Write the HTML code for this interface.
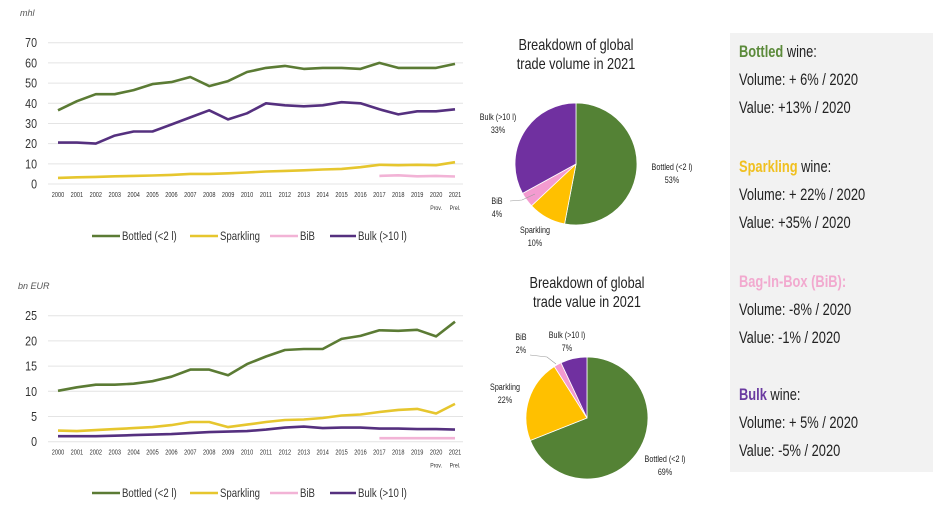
<!DOCTYPE html>
<html><head><meta charset="utf-8">
<style>
html,body{margin:0;padding:0;background:#fff;width:944px;height:521px;overflow:hidden}
svg{display:block;font-family:"Liberation Sans",sans-serif}
.cond{font-family:"Liberation Sans Narrow","Liberation Sans",sans-serif}
</style></head>
<body>
<svg id="chart" width="944" height="521" viewBox="0 0 944 521" xmlns="http://www.w3.org/2000/svg">
  <rect x="730" y="33" width="203" height="439" fill="#f2f2f2"/>
  <g id="summary" font-size="16" fill="#222"></g>
  <g id="volChart"></g>
  <g id="valChart"></g>
  <g id="pies"></g>
</svg>
<script>
const years = ["2000","2001","2002","2003","2004","2005","2006","2007","2008","2009","2010","2011","2012","2013","2014","2015","2016","2017","2018","2019","2020","2021"];
const volBottled = [36.5,41,44.5,44.5,46.5,49.5,50.5,53,48.5,51,55.5,57.5,58.5,57,57.5,57.5,57,60,57.5,57.5,57.5,59.5];
const volSparkling = [3,3.3,3.5,3.8,4,4.2,4.5,5,5,5.3,5.7,6.2,6.5,6.8,7.2,7.5,8.3,9.5,9.3,9.5,9.3,10.8];
const volBiB = [null,null,null,null,null,null,null,null,null,null,null,null,null,null,null,null,null,4,4.3,3.8,4,3.7];
const volBulk = [20.5,20.5,20,24,26,26,29.5,33,36.5,32,35,40,39,38.5,39,40.5,40,37,34.5,36,36,37];
const volTicks = [0,10,20,30,40,50,60,70];
const valBottled = [10.1,10.8,11.3,11.3,11.5,12,12.9,14.3,14.3,13.2,15.4,16.9,18.2,18.4,18.4,20.4,21,22.1,22,22.2,20.9,23.8];
const valSparkling = [2.2,2.1,2.3,2.5,2.7,2.9,3.3,3.9,3.9,2.9,3.4,3.9,4.3,4.4,4.7,5.2,5.4,5.9,6.3,6.5,5.6,7.5];
const valBiB = [null,null,null,null,null,null,null,null,null,null,null,null,null,null,null,null,null,0.7,0.7,0.7,0.7,0.7];
const valBulk = [1.1,1.1,1.1,1.2,1.3,1.4,1.5,1.7,1.9,2,2.1,2.4,2.8,3,2.7,2.8,2.8,2.6,2.6,2.5,2.5,2.4];
const valTicks = [0,5,10,15,20,25];
const pieCats = ["Bottled (<2 l)","Sparkling","BiB","Bulk (>10 l)"];
const volShares = [53,10,4,33];
const valShares = [69,22,2,7];

const NS="http://www.w3.org/2000/svg";
const lineColors=["#5b7b34","#e6c62e","#f2b3d6","#55307f"];
const pieColors=["#548235","#ffc000","#f39bd0","#7030a0"];
function mk(tag,attrs,parent,text){const e=document.createElementNS(NS,tag);for(const k in attrs)e.setAttribute(k,attrs[k]);if(text!==undefined)e.textContent=text;parent.appendChild(e);return e;}

function lineChart(g,cfg){
  const x0=58,x1=455;
  const xs=i=>x0+(x1-x0)*i/(years.length-1);
  const ys=v=>cfg.y0-(cfg.y0-cfg.yTop)*v/cfg.max;
  let u=mk("text",{x:cfg.unitX,y:cfg.unitY,"font-size":9,"font-style":"italic",fill:"#555",class:"cond"},g,cfg.unit);
  
  
  cfg.ticks.forEach(t=>{
    const y=ys(t);
    let gl=mk("line",{x1:48,x2:463,y1:y,y2:y,stroke:"#e4e4e4","stroke-width":1},g);
    
    
    let tl=mk("text",{x:37,y:y+4.5,"text-anchor":"end","font-size":12.5,fill:"#333",class:"cond",transform:`translate(${37*0.15},0) scale(0.85,1)`},g,t);
    tl.setAttribute('x',37/0.85);tl.setAttribute('transform','scale(0.85,1)');
    
    
  });
  years.forEach((yr,i)=>{
    let t=mk("text",{x:xs(i)/0.8,y:cfg.y0+13,"text-anchor":"middle","font-size":7,fill:"#333",transform:"scale(0.8,1)"},g,yr);
    
    
  });
  [["Prov.",years.length-2],["Prel.",years.length-1]].forEach(([s,i])=>{
    let t=mk("text",{x:xs(i)/0.8,y:cfg.y0+26,"text-anchor":"middle","font-size":6.5,fill:"#333",transform:"scale(0.8,1)"},g,s);
    
    
  });
  const names=["bottled","sparkling","bib","bulk"];
  cfg.series.forEach((s,k)=>{
    let d="";let started=false;
    s.forEach((v,i)=>{if(v===null)return;d+=(started?"L":"M")+xs(i).toFixed(1)+","+ys(v).toFixed(1);started=true;});
    let p=mk("path",{d:d,fill:"none",stroke:lineColors[k],"stroke-width":2.6,"stroke-linejoin":"round"},g);
    
    
  });
  const leg=[[92,122],[190,220],[270,300],[330,358]];
  pieCats.forEach((c,k)=>{
    let l=mk("line",{x1:leg[k][0],x2:leg[k][1]-2,y1:cfg.legY,y2:cfg.legY,stroke:lineColors[k],"stroke-width":2.6},g);
    
    
    let t=mk("text",{x:leg[k][1]/0.8,y:cfg.legY+4,"font-size":12,fill:"#333",transform:"scale(0.8,1)"},g,k===2?"BiB":c);
    
    
  });
}
lineChart(document.getElementById("volChart"),{y0:184,yTop:42.7,max:70,ticks:volTicks,series:[volBottled,volSparkling,volBiB,volBulk],unit:"mhl",unitX:20,unitY:16,legY:236});
lineChart(document.getElementById("valChart"),{y0:441.7,yTop:315.7,max:25,ticks:valTicks,series:[valBottled,valSparkling,valBiB,valBulk],unit:"bn EUR",unitX:18,unitY:289,legY:493});

function pie(g,shares,cx,cy,r,title,ty,labels){
  title.forEach((s,i)=>{
    let t=mk("text",{x:cx/0.82,y:ty+i*19,"text-anchor":"middle","font-size":15.5,fill:"#222",transform:"scale(0.82,1)"},g,s);
    
    
  });
  const tot=shares.reduce((a,b)=>a+b,0);let a=-Math.PI/2;
  const names=["bottled","sparkling","bib","bulk"];
  shares.forEach((v,k)=>{
    const a2=a+2*Math.PI*v/tot;
    const large=(a2-a)>Math.PI?1:0;
    const d=`M${cx},${cy}L${cx+r*Math.cos(a)},${cy+r*Math.sin(a)}A${r},${r} 0 ${large} 1 ${cx+r*Math.cos(a2)},${cy+r*Math.sin(a2)}Z`;
    let p=mk("path",{d:d,fill:pieColors[k],stroke:"#fff","stroke-width":0.8},g);
    
    
    a=a2;
  });
  labels.forEach((L,k)=>{
    let t=mk("text",{x:L[0]/0.8,y:L[1],"text-anchor":"middle","font-size":9,fill:"#222",transform:"scale(0.8,1)"},g,pieCats[k]);
    
    
    let t2=mk("text",{x:L[0]/0.8,y:L[1]+13,"text-anchor":"middle","font-size":9,fill:"#222",transform:"scale(0.8,1)"},g,shares[k]+"%");
    
    
  });
}
const pg=document.getElementById("pies");
pie(pg,volShares,576,164,61,["Breakdown of global","trade volume in 2021"],50,[[672,170],[535,233],[497,204],[498,120]]);
pie(pg,valShares,587,418,61,["Breakdown of global","trade value in 2021"],288,[[665,462],[505,390],[521,340],[567,338]]);
let c1=mk("polyline",{points:"510,201 522,200 535,194",fill:"none",stroke:"#999","stroke-width":0.6},pg);


let c2=mk("polyline",{points:"530,355 547,357 556,364",fill:"none",stroke:"#999","stroke-width":0.6},pg);



const sg=document.getElementById("summary");
const blocks=[
 ["Bottled","#5b8a3a"," wine:","Volume: + 6% / 2020","Value: +13% / 2020",57],
 ["Sparkling","#f0c020"," wine:","Volume: + 22% / 2020","Value: +35% / 2020",172],
 ["Bag-In-Box (BiB):","#f2a9cf","","Volume: -8% / 2020","Value: -1% / 2020",287],
 ["Bulk","#6a3aa0"," wine:","Volume: + 5% / 2020","Value: -5% / 2020",400]];
blocks.forEach(b=>{
  let h=mk("text",{x:739/0.78,y:b[5],transform:"scale(0.78,1)","font-size":16.5},sg);
  
  
  mk("tspan",{fill:b[1],"font-weight":"bold"},h,b[0]);
  if(b[2])mk("tspan",{fill:"#222"},h,b[2]);
  [b[3],b[4]].forEach((s,i)=>{
    let t=mk("text",{x:739/0.78,y:b[5]+28+i*28,transform:"scale(0.78,1)","font-size":16.5,fill:"#222"},sg,s);
    
    
  });
});
</script>
</body></html>
